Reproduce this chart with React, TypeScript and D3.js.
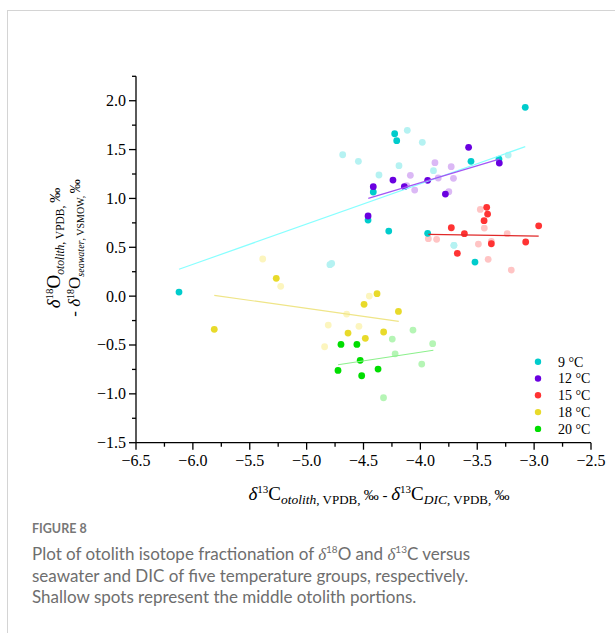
import React from "react";
import * as d3 from "d3";

// ---- data ----
const groups = ["9 °C", "12 °C", "15 °C", "18 °C", "20 °C"];
const darkColors = ["#00CCCC", "#6A00E0", "#FF3333", "#E8DA2A", "#00DD00"];
const lightColors = ["#B5F2F2", "#DBB8F5", "#FFC4C4", "#FCF5BE", "#B5F5B5"];
const lineColors = ["#88FFFF", "#A455F5", "#E02828", "#EFE588", "#8CF08C"];

// edge (dark) points per group [x, y]
const edge9 = [[-3.078, 1.932], [-4.226, 1.662], [-4.208, 1.591], [-3.555, 1.38], [-3.309, 1.403], [-4.414, 1.066], [-4.46, 0.779], [-4.278, 0.666], [-3.936, 0.643], [-3.52, 0.349], [-6.122, 0.042]];
const edge12 = [[-3.576, 1.523], [-3.306, 1.362], [-4.414, 1.12], [-4.241, 1.188], [-4.141, 1.12], [-3.936, 1.185], [-3.78, 1.045], [-4.46, 0.82]];
const edge15 = [[-3.417, 0.909], [-3.409, 0.84], [-3.44, 0.772], [-3.728, 0.7], [-3.613, 0.639], [-2.96, 0.72], [-3.376, 0.536], [-3.074, 0.554], [-3.675, 0.438]];
const edge18 = [[-5.267, 0.182], [-5.812, -0.34], [-4.381, 0.025], [-4.495, -0.084], [-4.193, -0.156], [-4.636, -0.378], [-4.484, -0.432], [-4.323, -0.367]];
const edge20 = [[-4.698, -0.494], [-4.558, -0.494], [-4.529, -0.657], [-4.724, -0.76], [-4.516, -0.815], [-4.372, -0.746]];

// middle (shallow) points per group [x, y]
const mid9 = [[-4.115, 1.697], [-3.983, 1.574], [-4.683, 1.447], [-4.545, 1.38], [-4.188, 1.335], [-4.364, 1.24], [-3.885, 1.284], [-3.228, 1.444], [-4.795, 0.322], [-4.78, 0.335], [-3.705, 0.52], [-3.705, 0.52]];
const mid12 = [[-3.872, 1.366], [-3.729, 1.325], [-4.088, 1.236], [-3.843, 1.209], [-3.709, 1.206], [-4.05, 1.086], [-3.75, 1.069], [-4.12, 1.13]];
const mid15 = [[-3.473, 0.888], [-3.438, 0.697], [-3.93, 0.588], [-3.857, 0.581], [-3.49, 0.533], [-3.376, 0.561], [-3.237, 0.639], [-3.404, 0.377], [-3.201, 0.267]];
const mid18 = [[-5.386, 0.38], [-5.228, 0.1], [-4.449, 0.001], [-4.648, -0.184], [-4.81, -0.296], [-4.54, -0.309], [-4.842, -0.518]];
const mid20 = [[-4.247, -0.439], [-4.065, -0.347], [-3.892, -0.487], [-4.222, -0.59], [-3.988, -0.695], [-4.324, -1.04]];

// fitted lines [x1, y1, x2, y2]
const fit9 = [-6.122, 0.275, -3.078, 1.53];
const fit12 = [-4.458, 1.001, -3.306, 1.403];
const fit15 = [-3.93, 0.633, -2.96, 0.615];
const fit18 = [-5.812, 0.008, -4.19, -0.258];
const fit20 = [-4.724, -0.702, -3.886, -0.554];

const xTicks = [-6.5, -6.0, -5.5, -5.0, -4.5, -4.0, -3.5, -3.0, -2.5];
const yTicks = [-1.5, -1.0, -0.5, 0.0, 0.5, 1.0, 1.5, 2.0];

const edges = [edge9, edge12, edge15, edge18, edge20];
const mids = [mid9, mid12, mid15, mid18, mid20];
const fits = [fit9, fit12, fit15, fit18, fit20];

const W = 615;
const H = 633;
const x = d3.scaleLinear().domain([-6.5, -2.5]).range([136, 591]);
const y = d3.scaleLinear().domain([-1.5, 2.25]).range([442.7, 76.3]);

const serif = "Liberation Serif, Times New Roman, serif";
const sans = "Lato, Open Sans, Noto Sans, sans-serif";
const fmt = (v: number) => (v < 0 ? "\u2212" : "") + Math.abs(v).toFixed(1);

export default function App() {
  const xMinor = d3.range(-6.5, -2.49, 0.25);
  const yMinor = d3.range(-1.5, 2.26, 0.25);
  const r = 3.4;
  return (
    <svg width={W} height={H} style={{ position: "absolute", left: 0, top: 0, background: "#fff" }}>
      <rect x={7.5} y={10.5} width={640} height={700} fill="#fff" stroke="#d4d4d4" strokeWidth={1} />

      {/* points */}
      {mids.map((pts, gi) =>
        pts.map((p, i) => (
          <circle key={`m${gi}-${i}`} cx={x(p[0])} cy={y(p[1])} r={r} fill={lightColors[gi]} />
        ))
      )}
      {edges.map((pts, gi) =>
        pts.map((p, i) => (
          <circle key={`e${gi}-${i}`} cx={x(p[0])} cy={y(p[1])} r={r} fill={darkColors[gi]} />
        ))
      )}
      {/* fit lines */}
      {fits.map((f, gi) => (
        <line key={`f${gi}`} x1={x(f[0])} y1={y(f[1])} x2={x(f[2])} y2={y(f[3])} stroke={lineColors[gi]} strokeWidth={1.2} />
      ))}

      {/* axes */}
      <g stroke="#000" strokeWidth={1.3} fill="none">
        <line x1={x(-6.5)} y1={y(-1.5)} x2={x(-2.5)} y2={y(-1.5)} />
        <line x1={x(-6.5)} y1={y(-1.5)} x2={x(-6.5)} y2={y(2.25)} />
        {xMinor.map((v, i) => (
          <line key={`xm${i}`} x1={x(v)} x2={x(v)} y1={y(-1.5)} y2={y(-1.5) + (i % 2 === 0 ? 7 : 4)} />
        ))}
        {yMinor.map((v, i) => (
          <line key={`ym${i}`} y1={y(v)} y2={y(v)} x1={x(-6.5)} x2={x(-6.5) - (i % 2 === 0 ? 7 : 4)} />
        ))}
      </g>
      {xTicks.map((v) => (
        <text key={`xt${v}`} x={x(v)} y={465.5} textAnchor="middle" style={{ fontFamily: serif, fontSize: 16 }} fill="#000">{fmt(v)}</text>
      ))}
      {yTicks.map((v) => (
        <text key={`yt${v}`} x={126} y={y(v) + 5.5} textAnchor="end" style={{ fontFamily: serif, fontSize: 16 }} fill="#000">{fmt(v)}</text>
      ))}

      {/* x label */}
      <text x={379} y={500} textAnchor="middle" style={{ fontFamily: serif }} fill="#000">
        <tspan fontStyle="italic" fontSize={19}>δ</tspan>
        <tspan fontSize={11} dy={-7}>13</tspan>
        <tspan fontSize={19} dy={7}>C</tspan>
        <tspan fontSize={13.5} fontStyle="italic" dy={4}>otolith</tspan>
        <tspan fontSize={13}>, VPDB, </tspan>
        <tspan fontSize={15} dy={-4}>‰ - </tspan>
        <tspan fontStyle="italic" fontSize={19}>δ</tspan>
        <tspan fontSize={11} dy={-7}>13</tspan>
        <tspan fontSize={19} dy={7}>C</tspan>
        <tspan fontSize={13.5} fontStyle="italic" dy={4}>DIC</tspan>
        <tspan fontSize={13}>, VPDB, </tspan>
        <tspan fontSize={15} dy={-4}>‰</tspan>
      </text>

      {/* y label */}
      <text transform="translate(60,248) rotate(-90)" textAnchor="middle" style={{ fontFamily: serif }} fill="#000">
        <tspan fontStyle="italic" fontSize={19}>δ</tspan>
        <tspan fontSize={11} dy={-7}>18</tspan>
        <tspan fontSize={19} dy={7}>O</tspan>
        <tspan fontSize={11.5} fontStyle="italic" dy={4}>otolith</tspan>
        <tspan fontSize={11.5}>, VPDB, </tspan>
        <tspan fontSize={15} dy={-4}>‰</tspan>
      </text>
      <text transform="translate(80,248) rotate(-90)" textAnchor="middle" style={{ fontFamily: serif }} fill="#000">
        <tspan fontSize={17}>- </tspan>
        <tspan fontStyle="italic" fontSize={17}>δ</tspan>
        <tspan fontSize={10} dy={-6}>18</tspan>
        <tspan fontSize={17} dy={6}>O</tspan>
        <tspan fontSize={10} fontStyle="italic" dy={4}>seawater</tspan>
        <tspan fontSize={10}>, VSMOW, </tspan>
        <tspan fontSize={14} dy={-4}>‰</tspan>
      </text>

      {/* legend */}
      {groups.map((g, i) => (
        <g key={g}>
          <circle cx={538} cy={361.7 + i * 16.8} r={3.2} fill={darkColors[i]} />
          <text x={558} y={366.5 + i * 16.8} style={{ fontFamily: serif, fontSize: 14 }} fill="#000">{g}</text>
        </g>
      ))}

      {/* caption */}
      <text x={32} y={533} style={{ fontFamily: sans, fontSize: 12.5, fontWeight: 700 }} fill="#777">FIGURE 8</text>
      <g style={{ fontFamily: sans, fontSize: 17 }} fill="#6e6e6e">
        <text x={32} y={560}>
          Plot of otolith isotope fractionation of <tspan fontStyle="italic" style={{ fontFamily: serif }}>δ</tspan>
          <tspan fontSize={10} dy={-7}>18</tspan>
          <tspan dy={7}>O and </tspan>
          <tspan fontStyle="italic" style={{ fontFamily: serif }}>δ</tspan>
          <tspan fontSize={10} dy={-7}>13</tspan>
          <tspan dy={7}>C versus</tspan>
        </text>
        <text x={32} y={581.5}>seawater and DIC of five temperature groups, respectively.</text>
        <text x={32} y={603}>Shallow spots represent the middle otolith portions.</text>
      </g>
    </svg>
  );
}
